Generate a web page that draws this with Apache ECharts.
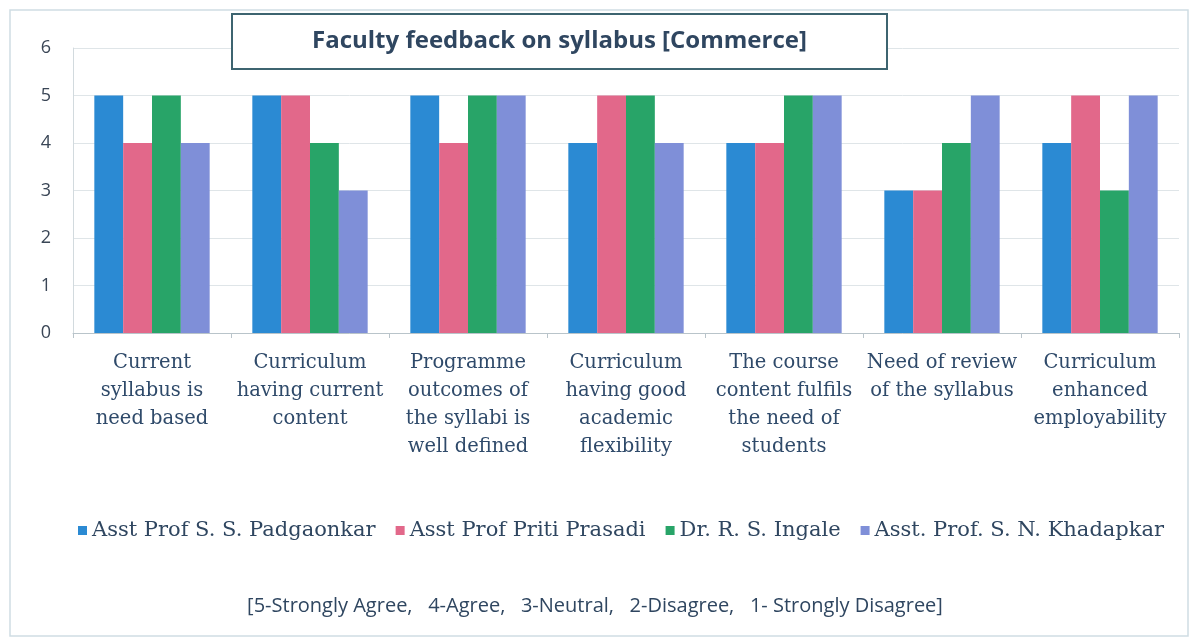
<!DOCTYPE html>
<html>
<head>
<meta charset="utf-8">
<script src="https://cdn.jsdelivr.net/npm/echarts@6/dist/echarts.min.js"></script>
<style>
html,body{margin:0;padding:0;background:#fff;}
#c{width:1190px;height:639px;}
</style>
</head>
<body>
<div id="c"></div>
<script>
const categories = [
  "Current\nsyllabus is\nneed based",
  "Curriculum\nhaving current\ncontent",
  "Programme\noutcomes of\nthe syllabi is\nwell defined",
  "Curriculum\nhaving good\nacademic\nflexibility",
  "The course\ncontent fulfils\nthe need of\nstudents",
  "Need of review\nof the syllabus",
  "Curriculum\nenhanced\nemployability"
];
const seriesNames = ["Asst Prof S. S. Padgaonkar", "Asst Prof Priti Prasadi", "Dr. R. S. Ingale", "Asst. Prof. S. N. Khadapkar"];
const padgaonkar = [5, 5, 5, 4, 4, 3, 4];
const prasadi    = [4, 5, 4, 5, 4, 3, 5];
const ingale     = [5, 4, 5, 5, 5, 4, 3];
const khadapkar  = [4, 3, 5, 4, 5, 5, 5];
const yTicks = [0, 1, 2, 3, 4, 5, 6];
const titleText = "Faculty feedback on syllabus [Commerce]";
const footnote = "[5-Strongly Agree,   4-Agree,   3-Neutral,   2-Disagree,   1- Strongly Disagree]";

const colors = ["#2b8ad3", "#e2688a", "#28a468", "#7f8fd8"];
const values = [padgaonkar, prasadi, ingale, khadapkar];

const chart = echarts.init(document.getElementById('c'));
chart.setOption({
  animation: false,
  backgroundColor: '#ffffff',
  color: colors,
  title: [{
    text: titleText,
    left: 232, top: 14,
    padding: [14, 80, 14, 80],
    borderColor: '#3d6470', borderWidth: 2,
    backgroundColor: '#ffffff',
    textStyle: {fontFamily: 'Open Sans', fontWeight: 'bold', fontSize: 24, lineHeight: 27, color: '#2f4660'}
  }, {
    text: footnote,
    left: 'center', top: 591,
    textStyle: {fontFamily: 'Open Sans', fontWeight: 'normal', fontSize: 20, color: '#2f4660'}
  }],
  legend: {
    data: seriesNames,
    left: 73, top: 515,
    itemWidth: 9, itemHeight: 9, itemGap: 20,
    icon: 'rect',
    textStyle: {fontFamily: 'DejaVu Serif', fontSize: 21, color: '#2f4660'}
  },
  grid: {left: 73, right: 11, top: 48, bottom: 306, containLabel: false},
  xAxis: {
    type: 'category',
    data: categories,
    axisLine: {lineStyle: {color: '#b9c4ca'}},
    axisTick: {show: true, length: 5, lineStyle: {color: '#b9c4ca'}},
    axisLabel: {interval: 0, margin: 16, lineHeight: 28, fontFamily: 'DejaVu Serif', fontSize: 19.5, color: '#2f4a6a'}
  },
  yAxis: {
    type: 'value', min: 0, max: 6, interval: 1,
    axisLine: {show: true, lineStyle: {color: '#d2dade'}},
    axisTick: {show: false},
    splitLine: {lineStyle: {color: '#dfe5e8'}},
    axisLabel: {margin: 22, fontFamily: 'Open Sans', fontSize: 18, color: '#3a4656',
      formatter: v => yTicks.indexOf(v) >= 0 ? String(v) : ''}
  },
  graphic: [{
    type: 'rect', silent: true, z: -1,
    shape: {x: 10, y: 10, width: 1178, height: 626},
    style: {fill: 'none', stroke: '#cfdde4', lineWidth: 1.5}
  }],
  series: seriesNames.map((n, i) => ({
    name: n, type: 'bar', data: values[i],
    barGap: '0%', barCategoryGap: '27%',
    itemStyle: {color: colors[i]}
  }))
});
</script>
</body>
</html>
